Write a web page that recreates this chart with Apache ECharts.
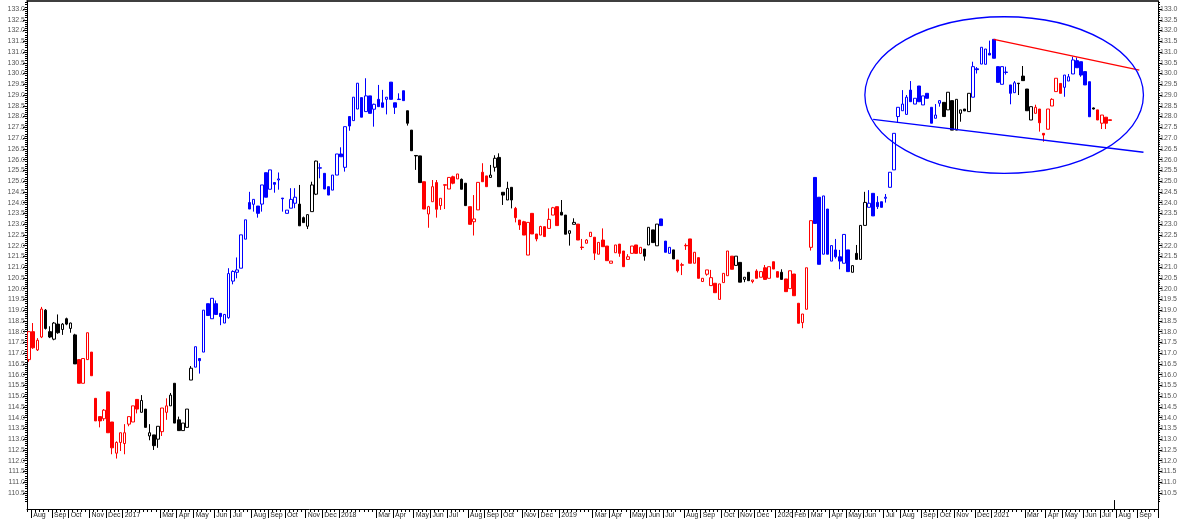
<!DOCTYPE html>
<html><head><meta charset="utf-8">
<script src="https://cdn.jsdelivr.net/npm/echarts@6/dist/echarts.min.js"></script>
<style>html,body{margin:0;padding:0;background:#fff}#c{width:1185px;height:519px}</style>
</head><body><div id="c"></div>
<script>
// ---- data (weekly candles, first week starting 2016-07-25) ----
const startWeek = [2016, 6, 25];
const weekCount = 272;
const opens = [
116.7,118.0,117.15,117.75,119.0,118.0,117.65,118.35,118.1,118.6,
118.15,117.85,116.7,115.6,116.7,117.05,114.9,114.05,113.95,115.2,
113.8,112.35,112.85,112.8,113.7,113.8,114.85,114.25,114.4,113.15,
113.2,113.0,113.35,114.25,114.55,115.6,113.9,113.4,113.55,115.75,
116.35,116.75,117.05,119.3,118.6,119.3,118.85,118.4,118.65,120.35,
120.76,120.95,122.3,124.0,123.92,123.84,123.93,125.39,124.62,124.93,
125.05,124.21,123.5,123.74,123.97,123.93,123.3,122.9,123.58,124.39,
125.6,125.36,124.74,124.58,125.28,126.26,125.64,128.0,127.81,128.35,
128.88,128.23,128.96,128.34,128.8,128.64,128.8,129.6,128.64,128.81,
129.2,128.27,127.37,126.19,126.17,124.97,123.47,124.04,124.93,123.86,
124.83,124.63,125.2,125.1,125.08,124.9,123.81,123.11,123.66,125.41,
125.24,125.17,125.64,126.1,124.48,124.12,124.71,123.73,123.19,123.11,
121.56,123.5,122.54,122.49,122.88,122.8,123.42,123.81,123.55,123.42,
122.57,122.99,123.0,121.93,122.11,122.42,122.39,121.6,122.26,121.98,
121.18,121.67,122.07,121.75,121.36,121.64,122.03,121.64,121.84,122.03,
122.73,121.99,123.24,122.21,121.64,121.8,121.33,121.11,122.01,122.31,
121.18,121.44,120.33,120.67,120.14,120.25,119.5,120.28,120.6,121.51,
121.08,121.22,120.43,120.76,120.33,120.82,120.53,120.97,120.48,121.25,
120.79,120.76,120.45,120.0,120.68,119.32,118.42,119.04,121.92,125.17,
124.25,121.6,123.7,121.28,121.8,121.48,121.18,121.8,120.76,121.64,
121.36,122.94,123.78,124.43,124.01,124.04,124.2,124.71,125.52,128.0,
128.27,128.1,129.23,128.58,129.42,128.54,129.08,128.43,127.92,128.62,
128.66,128.31,128.74,127.37,128.15,128.35,128.23,128.9,130.22,130.44,
130.43,130.94,131.59,130.32,129.5,130.05,129.47,129.11,129.55,129.88,
129.28,127.84,128.15,128.35,127.22,127.41,128.49,129.16,129.54,129.36,
129.65,129.98,130.6,130.55,130.09,129.62,128.4,128.31,127.69,127.97,
127.85];
const closes = [
118.0,117.25,117.6,119.05,118.15,117.75,118.4,117.95,118.35,118.35,
118.4,116.5,115.6,116.75,117.95,115.95,113.85,113.85,114.35,113.3,
112.6,112.85,113.3,113.3,114.05,114.55,114.4,114.8,113.55,113.3,
112.7,113.6,114.45,114.55,115.05,113.75,113.4,113.75,114.4,116.3,
117.3,116.65,119.0,118.75,119.55,118.8,118.7,118.8,120.7,120.8,
120.87,122.5,123.2,123.7,124.15,123.5,124.82,124.25,125.52,124.85,
125.1,124.18,123.65,124.15,124.25,122.92,123.07,123.44,124.82,125.93,
125.62,124.63,124.35,125.28,126.26,126.13,127.53,127.56,128.9,129.55,
127.97,128.96,128.15,128.57,128.46,128.43,128.9,128.8,128.43,128.79,
128.74,127.69,126.41,126.17,124.93,123.7,123.81,124.74,123.69,124.2,
124.81,125.17,124.9,125.33,124.62,123.86,122.99,123.24,124.94,124.97,
124.74,125.28,126.06,124.74,124.35,124.66,124.12,123.3,122.96,122.49,
123.08,122.54,122.31,122.89,122.42,123.22,123.76,122.93,123.42,122.53,
122.69,123.08,122.26,121.91,122.26,122.62,121.65,122.15,121.95,121.3,
121.28,122.03,121.64,121.02,121.48,121.98,121.64,121.92,121.51,122.85,
122.14,123.0,122.93,121.69,121.92,121.38,120.83,121.09,121.99,121.18,
121.69,120.48,120.48,120.87,120.51,119.81,120.22,120.71,121.75,120.9,
121.51,120.3,120.53,120.37,120.4,120.48,120.79,120.43,121.02,120.91,
120.53,120.43,119.86,120.83,119.67,118.39,118.82,120.97,123.16,123.03,
121.13,124.31,121.6,122.0,121.48,121.28,122.52,120.79,121.07,121.36,
122.94,124.01,123.97,123.38,123.81,123.78,124.25,125.41,127.22,128.43,
128.58,128.9,128.69,128.85,128.69,128.96,128.85,127.69,128.07,128.74,
128.0,129.13,127.37,128.8,128.31,128.26,129.08,130.32,130.18,131.22,
131.14,130.86,130.71,129.59,130.32,130.07,129.08,129.57,129.53,129.67,
128.27,128.46,128.43,127.71,127.14,128.35,128.8,129.78,129.08,129.93,
129.85,130.63,130.27,129.93,129.47,127.99,128.35,127.84,128.07,127.69,
127.82];
const lows = [
116.6,117.2,117.1,117.7,118.1,117.7,117.6,117.9,117.85,118.3,
117.95,116.5,115.6,115.6,116.7,115.95,113.85,113.55,113.85,113.3,
112.3,112.1,112.45,112.3,113.6,113.8,114.2,114.25,113.55,112.95,
112.5,112.6,113.15,113.9,114.55,113.75,113.4,113.4,113.55,115.75,
116.35,116.05,117.05,118.75,118.6,118.8,118.3,118.4,118.6,120.2,
120.48,120.95,122.3,123.7,123.58,123.3,123.58,124.25,124.62,124.46,
124.6,123.58,123.5,123.74,123.74,122.92,123.07,122.77,123.58,124.35,
125.13,124.63,124.35,124.58,125.28,126.13,125.44,127.34,127.81,128.35,
127.97,128.23,128.15,127.53,128.46,128.43,128.1,128.8,128.12,128.79,
128.74,127.58,126.41,125.52,124.93,123.7,122.83,124.04,123.3,123.66,
123.7,124.63,124.85,125.1,124.62,123.86,122.99,122.47,123.66,124.97,
124.74,125.17,125.44,124.74,123.89,124.12,123.73,123.08,122.73,122.49,
121.56,122.54,122.2,122.49,122.42,122.8,123.42,122.93,123.42,122.53,
122.0,122.99,122.26,121.8,122.11,122.42,121.33,121.6,121.95,121.3,
121.18,121.67,121.48,121.02,121.36,121.64,121.64,121.64,121.3,122.03,
122.14,121.99,122.93,121.69,121.64,121.38,120.75,120.63,121.8,121.18,
121.18,120.48,120.33,120.6,120.14,119.81,119.5,120.28,120.6,120.9,
121.08,120.3,120.3,120.37,120.25,120.48,120.53,120.43,120.48,120.91,
120.53,120.43,119.86,120.0,119.67,118.39,118.16,119.04,121.77,123.03,
121.13,121.6,121.6,121.28,121.4,120.9,121.18,120.79,120.76,121.36,
121.36,122.94,123.78,123.38,123.7,123.78,124.0,124.71,125.52,127.71,
128.27,128.1,128.69,128.58,128.69,128.54,128.85,127.69,127.92,128.46,
128.0,128.31,127.37,127.37,127.76,128.26,128.23,128.9,130.0,130.44,
130.43,130.86,130.71,129.59,129.5,129.95,128.57,129.11,129.0,129.67,
128.27,127.84,128.15,127.3,126.83,127.41,128.49,129.16,129.08,128.92,
129.65,129.98,130.27,129.85,129.47,127.99,128.33,127.84,127.42,127.42,
127.82];
const highs = [
118.0,118.4,117.7,119.15,119.05,118.25,118.45,118.8,118.4,118.65,
118.42,117.9,116.7,116.75,117.95,117.05,114.9,114.05,114.4,115.2,
113.8,112.9,113.3,113.7,114.05,114.55,114.85,115.05,114.4,113.7,
113.2,113.6,114.45,114.9,115.15,115.6,114.05,113.75,114.4,116.4,
117.3,116.75,119.0,119.3,119.55,119.45,118.85,118.8,120.95,120.85,
121.45,122.5,123.2,124.5,124.15,123.84,124.82,125.39,125.52,124.93,
125.4,124.21,123.65,124.67,124.67,124.82,123.35,123.44,124.97,125.95,
125.83,125.36,124.74,125.28,126.26,126.57,127.53,128.0,128.9,129.55,
128.88,129.78,128.96,128.6,129.47,129.24,128.9,129.6,128.64,129.08,
129.2,128.27,127.37,126.19,126.17,124.97,123.85,125.05,125.05,124.2,
124.83,125.17,125.25,125.33,125.12,124.9,123.81,124.35,124.94,125.83,
125.24,125.75,126.2,126.29,124.48,124.97,124.71,123.8,123.19,123.15,
123.08,123.5,122.54,122.92,122.88,123.73,123.8,123.81,124.12,123.42,
122.69,123.27,123.0,122.31,122.3,122.62,122.39,122.15,122.8,121.98,
121.28,122.03,122.07,121.75,121.6,121.98,122.03,121.92,121.84,122.85,
122.73,123.0,123.24,122.21,121.92,121.8,121.33,121.2,122.1,122.31,
121.69,121.44,120.48,120.87,120.87,120.25,120.22,120.71,121.75,121.51,
121.51,121.22,120.53,120.76,120.4,120.9,120.79,121.1,121.02,121.25,
120.79,120.9,120.45,120.83,120.68,119.32,118.82,120.97,123.16,125.17,
124.25,124.31,123.7,122.0,122.31,121.8,122.52,121.8,121.07,122.03,
122.94,124.5,124.58,124.43,124.3,124.04,124.4,125.41,127.22,128.43,
129.23,129.0,129.65,128.85,129.42,128.96,129.08,128.43,128.58,128.74,
128.66,129.13,128.74,128.8,128.31,128.35,129.08,130.55,130.3,131.22,
131.14,131.53,131.59,130.32,130.32,130.32,129.47,129.65,129.55,130.35,
129.28,128.46,128.55,128.35,127.22,128.35,128.85,129.78,129.54,129.93,
129.98,130.78,130.75,130.55,130.09,129.62,128.42,128.31,128.07,127.97,
127.85];
// trend colour of each candle: b = blue, r = red, k = black
const trend = ('rrrr kkkkkkkk rrrrrrrrrrrrrrr kkkkk rr kkkkkk bbbbbbbbbbbbbbbbbbbbbbbbb kkkkk ' +
  'bbbbbbbbbbbbbbbbbbbbb kkkk rrrrrrrrr kk rrrrr kkkkkk rrrrrrrrrrr kkkk rrrrrrrrrrrrrrrr kkkk bbb k ' +
  'rrrrrrrrrrrrrr kkkk rrrrrrr k rrrrrrr bbbbbbbbb kkkk bbbbbbbbbbbbbbbbbb kkkkkkk bbbbbbbbbbb kkkk ' +
  'rrrrrrr bbbbbbb k rrrr').replace(/ /g, '').split('');
// month labels from Aug 2016 (empty = no label)
const monthLabels = ['Aug','Sep','Oct','Nov','Dec',
 '2017','','Mar','Apr','May','Jun','Jul','Aug','Sep','Oct','Nov','Dec',
 '2018','','Mar','Apr','May','Jun','Jul','Aug','Sep','Oct','Nov','Dec',
 '2019','','Mar','Apr','May','Jun','Jul','Aug','Sep','Oct','Nov','Dec',
 '2020','Feb','Mar','Apr','May','Jun','Jul','Aug','Sep','Oct','Nov','Dec',
 '2021','','Mar','Apr','May','Jun','Jul','Aug','Sep'];
// annotations (in data terms: week index, price)
const lowerTrend = [[203, 127.87], [268, 126.34]];
const upperTrend = [[232, 131.59], [267, 130.16]];
const ellipseBox = {left: 201, right: 268, top: 132.64, bottom: 125.36};
const todayMark = {index: 261, from: 110.17};
const yMin = 109.755, yMax = 133.372;

const n = opens.length;
if (closes.length !== n || lows.length !== n || highs.length !== n || trend.length !== n)
  throw new Error('length mismatch ' + [n, closes.length, lows.length, highs.length, trend.length].join(','));

// ---- categories ----
const cats = [];
{
  let t = Date.UTC(startWeek[0], startWeek[1], startWeek[2]);
  for (let i = 0; i < weekCount; i++) { cats.push(new Date(t).toISOString().slice(0, 10)); t += 7 * 864e5; }
}
const labelByIndex = {};
{
  let mi = 0;
  for (let i = 1; i < cats.length; i++) {
    if (cats[i].slice(5, 7) !== cats[i - 1].slice(5, 7)) {
      const lab = monthLabels[mi++];
      if (lab) labelByIndex[i] = lab;
    }
  }
}
const majors = [], minors = [];
for (let k = 0; k <= 45; k++) majors.push(+(110.5 + k * 0.5).toFixed(1));
for (let k = 0; k <= 233; k++) { const v = +(110.0 + k * 0.1).toFixed(1); if (Math.abs(v * 2 - Math.round(v * 2)) > 1e-6) minors.push(v); }

const colors = {b: '#0000ff', r: '#ff0000', k: '#000000'};
function seriesFor(key) {
  const data = [];
  for (let i = 0; i < n; i++) data.push(trend[i] === key ? [opens[i], closes[i], lows[i], highs[i]] : '-');
  const c = colors[key];
  return {
    type: 'candlestick', name: key, data, barWidth: 3,
    itemStyle: {color: '#ffffff', color0: c, borderColor: c, borderColor0: c, borderColorDoji: c, borderWidth: 1},
    emphasis: {disabled: true}, silent: true, animation: false
  };
}
const sb = seriesFor('b'), sr = seriesFor('r'), sk = seriesFor('k');
const ml = (pts, color, w) => ({
  silent: true, symbol: ['none', 'none'], label: {show: false}, animation: false,
  lineStyle: {color, width: w, type: 'solid'}, emphasis: {disabled: true},
  data: [[{coord: [cats[pts[0][0]], pts[0][1]]}, {coord: [cats[pts[1][0]], pts[1][1]]}]]
});
sb.markLine = ml(lowerTrend, '#0000ff', 1.4);
sr.markLine = ml(upperTrend, '#ff0000', 1.3);
sk.markLine = ml([[todayMark.index, todayMark.from], [todayMark.index, yMin]], '#000000', 1);

const font = 'Liberation Sans';
const yBase = (pos) => ({
  type: 'value', position: pos, min: yMin, max: yMax, splitLine: {show: false},
  axisLine: {show: true, lineStyle: {color: '#000', width: 1}},
  axisTick: {show: true, customValues: majors, length: 4, lineStyle: {color: '#000'}},
  axisLabel: {show: true, customValues: majors, formatter: v => v.toFixed(1), fontSize: 7, color: '#555', margin: 2, fontFamily: font}
});
const yMinor = (pos) => ({
  type: 'value', position: pos, min: yMin, max: yMax, splitLine: {show: false},
  axisLine: {show: false}, axisLabel: {show: false},
  axisTick: {show: true, customValues: minors, length: 2, lineStyle: {color: '#000'}}
});

const chart = echarts.init(document.getElementById('c'), null, {renderer: 'canvas'});
chart.setOption({
  animation: false,
  backgroundColor: '#fff',
  grid: {left: 27, right: 27, top: 1, bottom: 10, containLabel: false},
  xAxis: [
    {type: 'category', data: cats, boundaryGap: true, position: 'bottom',
     axisLine: {show: true, onZero: false, lineStyle: {color: '#000', width: 1}},
     axisTick: {show: true, interval: (i) => labelByIndex[i] !== undefined, length: 9, lineStyle: {color: '#000'}},
     axisLabel: {show: true, interval: (i) => labelByIndex[i] !== undefined, formatter: (v, i) => labelByIndex[i] || '',
                 align: 'left', fontSize: 7, color: '#222', margin: 3, fontFamily: font},
     splitLine: {show: false}},
    {type: 'category', data: cats, boundaryGap: true, position: 'bottom',
     axisLine: {show: false}, axisTick: {show: true, interval: 0, length: 3, lineStyle: {color: '#000'}},
     axisLabel: {show: false}, splitLine: {show: false}},
    {type: 'category', data: cats, boundaryGap: true, position: 'top',
     axisLine: {show: true, onZero: false, lineStyle: {color: '#000', width: 1.5}}, axisTick: {show: false},
     axisLabel: {show: false}, splitLine: {show: false}}
  ],
  yAxis: [yBase('left'), yMinor('left'), yBase('right'), yMinor('right')],
  series: [sk, sr, sb]
});

const p1 = chart.convertToPixel({xAxisIndex: 0, yAxisIndex: 0}, [cats[ellipseBox.left], ellipseBox.top]);
const p2 = chart.convertToPixel({xAxisIndex: 0, yAxisIndex: 0}, [cats[ellipseBox.right], ellipseBox.bottom]);
chart.setOption({
  graphic: [{
    type: 'ellipse', silent: true, z: 100,
    shape: {cx: (p1[0] + p2[0]) / 2, cy: (p1[1] + p2[1]) / 2, rx: Math.abs(p2[0] - p1[0]) / 2, ry: Math.abs(p2[1] - p1[1]) / 2},
    style: {fill: null, stroke: '#0000ff', lineWidth: 1.3}
  }]
});
</script></body></html>
